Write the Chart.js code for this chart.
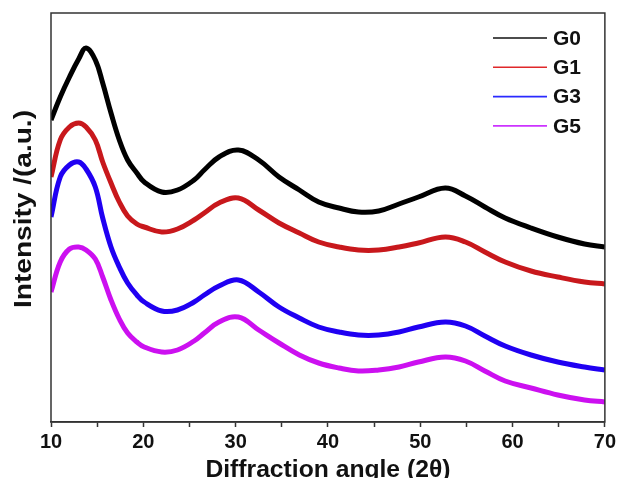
<!DOCTYPE html>
<html>
<head>
<meta charset="utf-8">
<script src="https://cdn.jsdelivr.net/npm/chart.js@4"></script>
<style>
  html, body { margin: 0; padding: 0; background: #ffffff; }
  canvas { display: block; }
</style>
</head>
<body>
<canvas id="xrd-chart" width="619" height="478"></canvas>
<script>
// Angles 2θ
const angles = [10, 11, 12, 13, 13.8, 14.8, 15.6, 16.5, 17.4, 18.3, 19.3, 20.1, 22, 23.7, 25.5, 26.6, 28.2, 30.3,
    32.5, 34.7, 36.9, 39, 41.2, 43.3, 45.5, 47.7, 49.8, 52.7, 54.9, 57, 59.2, 62, 64.9, 67.8, 70];

// Intensités (u.a.) estimées pour chaque échantillon
const g0 = [302, 325, 345, 363, 374, 362, 339, 309, 282, 262, 249, 240, 230, 232, 242, 252, 265, 272,
    262, 245, 232, 220, 214, 210, 211, 218, 225, 234, 226, 215, 204, 194, 185, 178, 175];
const g1 = [245, 282, 295, 299, 295, 282, 260, 239, 220, 206, 198, 195, 190, 193, 202, 209, 219, 224,
    212, 199, 189, 180, 175, 172, 172, 175, 179, 185, 180, 170, 160, 151, 145, 140, 138];
const g3 = [205, 245, 257, 260, 253, 235, 204, 175, 155, 139, 127, 120, 111, 112, 120, 127, 136, 142,
    130, 115, 104, 95, 90, 87, 87, 90, 95, 100, 96, 86, 76, 67, 60, 55, 52];
const g5 = [130, 160, 173, 175, 172, 163, 145, 122, 103, 89, 80, 75, 70, 72, 81, 89, 100, 105,
    92, 79, 67, 59, 54, 51, 52, 55, 60, 65, 61, 51, 41, 34, 27, 22, 20];

const seriesLabels = ['G0', 'G1', 'G3', 'G5'];
const seriesValues = [g0, g1, g3, g5];
const lineColors = ['#000000', '#c8181c', '#2000f2', '#cc10f0'];
const legendColors = ['#111111', '#e0282a', '#2a2aff', '#cc33ff'];

const xTitle = 'Diffraction angle (2\u03b8)';
const yTitle = 'Intensity /(a.u.)';
const FONT = '"Liberation Sans", Arial, sans-serif';

// Construire les datasets
const datasets = seriesValues.map((vals, i) => ({
    label: seriesLabels[i],
    data: angles.map((x, j) => ({ x: x, y: vals[j] })),
    borderColor: lineColors[i],
    backgroundColor: lineColors[i],
    borderWidth: 5,
    pointRadius: 0,
    fill: false,
    tension: 0.4
}));

// Titre des axes, cadre et légende dessinés à la main
const decorPlugin = {
    id: 'decor',
    afterDraw(chart) {
        const ctx = chart.ctx;
        const a = chart.chartArea;
        ctx.save();

        // cadre
        ctx.strokeStyle = '#333333';
        ctx.lineWidth = 1.5;
        ctx.strokeRect(a.left, a.top, a.right - a.left, a.bottom - a.top);

        ctx.fillStyle = '#111111';
        ctx.font = 'bold 24px ' + FONT;

        // titre axe x
        ctx.save();
        ctx.textAlign = 'center';
        ctx.textBaseline = 'alphabetic';
        let w = ctx.measureText(xTitle).width;
        ctx.translate((a.left + a.right) / 2, 477);
        ctx.scale(245 / w, 1);
        ctx.fillText(xTitle, 0, 0);
        ctx.restore();

        // titre axe y
        ctx.save();
        ctx.textAlign = 'center';
        ctx.textBaseline = 'middle';
        w = ctx.measureText(yTitle).width;
        ctx.translate(24, 209);
        ctx.rotate(-Math.PI / 2);
        ctx.scale(198 / w, 1);
        ctx.fillText(yTitle, 0, 0);
        ctx.restore();

        // légende
        ctx.font = 'bold 21px ' + FONT;
        ctx.textAlign = 'left';
        ctx.textBaseline = 'middle';
        chart.data.datasets.forEach((ds, i) => {
            const y = 38 + i * 29.3;
            ctx.strokeStyle = legendColors[i];
            ctx.lineWidth = 1.6;
            ctx.beginPath();
            ctx.moveTo(493, y);
            ctx.lineTo(547, y);
            ctx.stroke();
            ctx.fillStyle = '#111111';
            ctx.fillText(ds.label, 553, y + 1);
        });

        ctx.restore();
    }
};

const ctx = document.getElementById('xrd-chart').getContext('2d');
const xrdChart = new Chart(ctx, {
    type: 'line',
    data: { datasets: datasets },
    options: {
        responsive: false,
        animation: false,
        layout: { padding: { left: 51, right: 12, top: 13, bottom: 0 } },
        plugins: {
            legend: { display: false },
            tooltip: { enabled: false }
        },
        scales: {
            x: {
                type: 'linear',
                min: 10,
                max: 70,
                afterFit(scale) { scale.height = 56; },
                border: { display: true, color: '#333333', width: 1.5 },
                grid: {
                    drawOnChartArea: false,
                    drawTicks: true,
                    tickLength: 5,
                    tickColor: '#333333',
                    tickWidth: 1.5
                },
                ticks: {
                    stepSize: 5,
                    padding: 3,
                    maxRotation: 0,
                    autoSkip: false,
                    color: '#111111',
                    font: { family: FONT, size: 20, weight: 'bold' },
                    callback: function(v) { return v % 10 === 0 ? v : ''; }
                }
            },
            y: {
                type: 'linear',
                display: false,
                min: 0,
                max: 409
            }
        }
    },
    plugins: [decorPlugin]
});
</script>
</body>
</html>
